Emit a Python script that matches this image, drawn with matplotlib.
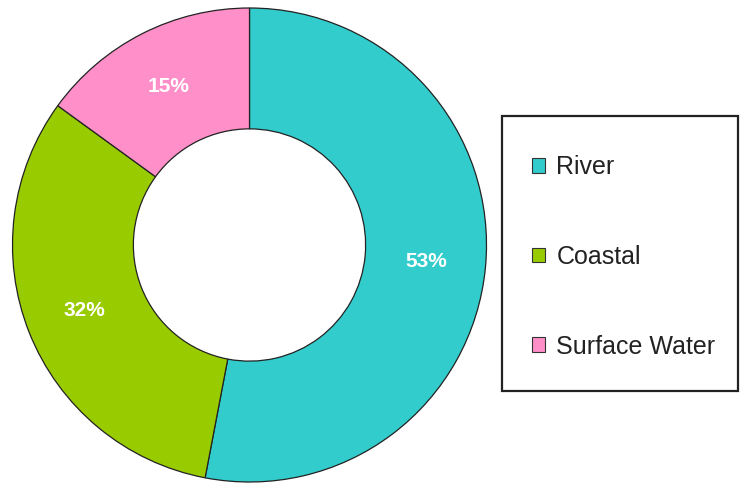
import matplotlib
matplotlib.use("Agg")
from matplotlib import pyplot as plt
from matplotlib.patches import Patch, Rectangle

# data
labels = ["River", "Coastal", "Surface Water"]
shares = [53, 32, 15]
colors = ["#33CCCC", "#99CC00", "#FF8FC8"]

W, H = 740, 483
fig = plt.figure(figsize=(W / 100, H / 100), dpi=100)
plt.rcParams['font.family'] = ['Liberation Sans', 'DejaVu Sans']

# pie axes, square in pixels, centred on (249.5, 245) from top-left
cx, cy, r = 249.5, 245, 237
ax = fig.add_axes([(cx - r) / W, (H - cy - r) / H, 2 * r / W, 2 * r / H])

wedges, texts, autotexts = ax.pie(
    shares, colors=colors, startangle=90, counterclock=False,
    radius=1, autopct=lambda p: '%d%%' % round(p), pctdistance=0.75,
    wedgeprops=dict(width=0.51, edgecolor='#222222', linewidth=0.9),
    textprops=dict(color='white', fontsize=15, fontweight='bold'))
ax.set_xlim(-1, 1)
ax.set_ylim(-1, 1)
ax.set_aspect('equal')
ax.axis('off')

# legend frame drawn separately
fig.patches.append(Rectangle((502 / W, (H - 391) / H), 236 / W, 275 / H,
                             transform=fig.transFigure, facecolor='white',
                             edgecolor='#222222', linewidth=1.6, zorder=0))

handles = [Patch(facecolor=c, edgecolor='#333333', linewidth=0.8) for c in colors]
fig.legend(handles, labels, loc='center left',
           bbox_to_anchor=(532 / W, (H - 257) / H),
           frameon=False, fontsize=18, borderpad=0, borderaxespad=0,
           handlelength=0.52, handleheight=0.52, handletextpad=0.45,
           labelspacing=2.62, labelcolor='#222222')

fig.savefig("out.png", dpi=100)
